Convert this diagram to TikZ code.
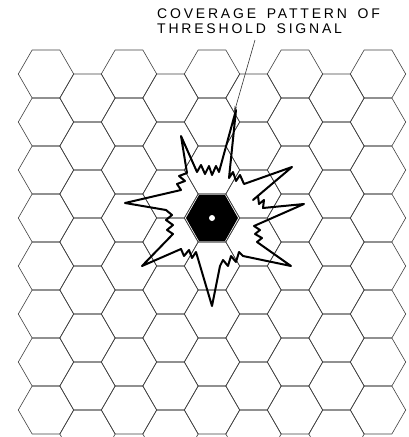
\documentclass[tikz,border=0pt]{standalone}
\usepackage{fontspec}
\newfontfamily\letterfont{Liberation Sans}[LetterSpace=20,WordSpace=1.6]
\usetikzlibrary{arrows.meta}
\begin{document}
\begin{tikzpicture}[x=1pt,y=-1pt,
  cell/.style={draw=black!75,line width=0.6pt},
  burst/.style={draw,line width=2pt,line join=round}]
\useasboundingbox (0,0) rectangle (408,437);
\begin{scope}
\clip (0,0) rectangle (408,437);
\foreach \i in {0,...,8}
  \foreach \j in {0,...,7}
    {\pgfmathsetmacro\cx{46+41.5*\i}
     \pgfmathsetmacro\cy{74+48*\j+24*mod(\i,2)}
     \draw[cell] (\cx-27.7,\cy)--(\cx-13.85,\cy-24)--(\cx+13.85,\cy-24)--(\cx+27.7,\cy)
       --(\cx+13.85,\cy+24)--(\cx-13.85,\cy+24)--cycle;}
\end{scope}
\fill (186,218)--(199,195)--(225,195)--(238,218)--(225,241)--(199,241)--cycle;
\fill[white] (212,218) circle (3);
\draw[burst] (236,110)--(229,178)--(233,172)--(236,181)--(240,175)--(244,184)--(292,167)
  --(253,200)--(258,196)--(259,204)--(264,200)--(263,208)--(304,204)
  --(254,226)--(260,230)--(255,234)--(262,238)--(257,242)--(291,266)
  --(243,256)--(239,252)--(236,262)--(231,256)--(228,266)--(223,260)--(220,266)--(212,306)
  --(196,252)--(192,258)--(189,250)--(184,256)--(181,249)--(142,266)
  --(173,234)--(167,230)--(173,225)--(166,220)--(172,215)--(166,210)--(125,203)
  --(181,190)--(177,184)--(185,181)--(179,176)--(187,173)--(181,136)
  --(197,172)--(201,165)--(205,174)--(209,166)--(212,175)--(216,166)--(219,172)--cycle;
\node[anchor=north west,align=left,inner sep=0pt,font=\letterfont\fontsize{14}{15}\selectfont]
  (caption) at (157,9) {COVERAGE PATTERN OF\\THRESHOLD SIGNAL};
\coordinate (foot) at (255,40);
\coordinate (tip) at (234,113);
\draw[black!80,line width=0.6pt,-{Stealth[length=7pt,width=2.5pt]}] (foot)--(tip);
\end{tikzpicture}
\end{document}
